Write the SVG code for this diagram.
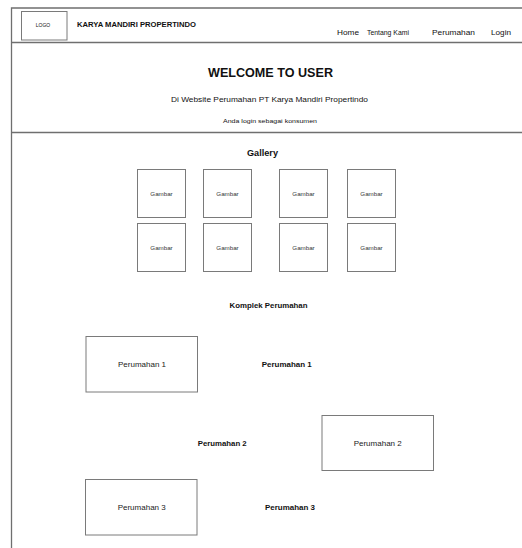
<svg xmlns="http://www.w3.org/2000/svg" width="522" height="548" viewBox="0 0 522 548">
  <style>
    text { font-family: "Liberation Sans", Arial, sans-serif; fill: #111; }
    .frame { fill: none; stroke: #6f6f6f; stroke-width: 1.3; }
    .box { fill: #fff; stroke: #7a7a7a; stroke-width: 1; }
    .nav { font-size: 8px; }
    .b { font-weight: bold; }
    .mid { text-anchor: middle; }
    .g { font-size: 6.2px; text-anchor: middle; fill: #333; }
    .p { font-size: 8px; text-anchor: middle; fill: #222; }
  </style>
  <rect width="522" height="548" fill="#fff"/>

  <!-- page frame and section dividers -->
  <g id="frame">
    <path class="frame" d="M11.5 548 V8 H522"/>
    <path class="frame" d="M11.5 42.5 H522"/>
    <path class="frame" d="M11.5 132.5 H522"/>
  </g>

  <!-- top bar -->
  <g id="logo">
    <rect class="box" x="21.5" y="11.5" width="45.5" height="28.5"/>
    <text x="43" y="27" font-size="5" class="mid" fill="#444">LOGO</text>
  </g>
  <g id="brand">
    <text x="77" y="27" font-size="7.8" class="b" textLength="119" lengthAdjust="spacingAndGlyphs">KARYA MANDIRI PROPERTINDO</text>
  </g>
  <g id="menu">
    <text class="nav" x="337" y="35" textLength="22" lengthAdjust="spacingAndGlyphs">Home</text>
    <text class="nav" x="367" y="35" textLength="42" lengthAdjust="spacingAndGlyphs">Tentang Kami</text>
    <text class="nav" x="432" y="35" textLength="43" lengthAdjust="spacingAndGlyphs">Perumahan</text>
    <text class="nav" x="491" y="35" textLength="20" lengthAdjust="spacingAndGlyphs">Login</text>
  </g>

  <!-- welcome banner -->
  <g id="welcome">
    <text x="270.5" y="77" font-size="12.6" class="b mid" textLength="125" lengthAdjust="spacingAndGlyphs">WELCOME TO USER</text>
    <text x="269.5" y="102" font-size="7.6" class="mid" textLength="197" lengthAdjust="spacingAndGlyphs">Di Website Perumahan PT Karya Mandiri Propertindo</text>
    <text x="270" y="123" font-size="5.8" class="mid" textLength="94" lengthAdjust="spacingAndGlyphs">Anda login sebagai konsumen</text>
  </g>

  <!-- gallery grid -->
  <g id="gallery-title">
    <text x="262.5" y="156" font-size="8.2" class="b mid" textLength="31" lengthAdjust="spacingAndGlyphs">Gallery</text>
  </g>
  <g id="gambar-1"><rect class="box" x="137.5" y="169.5" width="48" height="48"/><text class="g" x="161.5" y="196">Gambar</text></g>
  <g id="gambar-2"><rect class="box" x="203.5" y="169.5" width="48" height="48"/><text class="g" x="227.5" y="196">Gambar</text></g>
  <g id="gambar-3"><rect class="box" x="279.5" y="169.5" width="48" height="48"/><text class="g" x="303.5" y="196">Gambar</text></g>
  <g id="gambar-4"><rect class="box" x="347.5" y="169.5" width="48" height="48"/><text class="g" x="371.5" y="196">Gambar</text></g>
  <g id="gambar-5"><rect class="box" x="137.5" y="223.5" width="48" height="48"/><text class="g" x="161.5" y="250">Gambar</text></g>
  <g id="gambar-6"><rect class="box" x="203.5" y="223.5" width="48" height="48"/><text class="g" x="227.5" y="250">Gambar</text></g>
  <g id="gambar-7"><rect class="box" x="279.5" y="223.5" width="48" height="48"/><text class="g" x="303.5" y="250">Gambar</text></g>
  <g id="gambar-8"><rect class="box" x="347.5" y="223.5" width="48" height="48"/><text class="g" x="371.5" y="250">Gambar</text></g>

  <!-- housing complexes -->
  <g id="komplek-title">
    <text x="268.5" y="308" font-size="8" class="b mid" textLength="78" lengthAdjust="spacingAndGlyphs">Komplek Perumahan</text>
  </g>
  <g id="perumahan-1">
    <rect class="box" x="86" y="336.5" width="111.5" height="55.5"/>
    <text class="p" x="142" y="367">Perumahan 1</text>
  </g>
  <g id="label-1">
    <text x="286.7" y="367" font-size="8" class="b mid" textLength="50" lengthAdjust="spacingAndGlyphs">Perumahan 1</text>
  </g>
  <g id="label-2">
    <text x="222.2" y="445.5" font-size="8" class="b mid" textLength="49" lengthAdjust="spacingAndGlyphs">Perumahan 2</text>
  </g>
  <g id="perumahan-2">
    <rect class="box" x="322" y="415.5" width="111.5" height="55"/>
    <text class="p" x="377.7" y="445.5">Perumahan 2</text>
  </g>
  <g id="perumahan-3">
    <rect class="box" x="85.5" y="479.5" width="111.5" height="55.5"/>
    <text class="p" x="141.7" y="510">Perumahan 3</text>
  </g>
  <g id="label-3">
    <text x="290" y="510" font-size="8" class="b mid" textLength="50" lengthAdjust="spacingAndGlyphs">Perumahan 3</text>
  </g>

  <!-- no connectors in this layout -->
  <g id="connectors"/>
</svg>
